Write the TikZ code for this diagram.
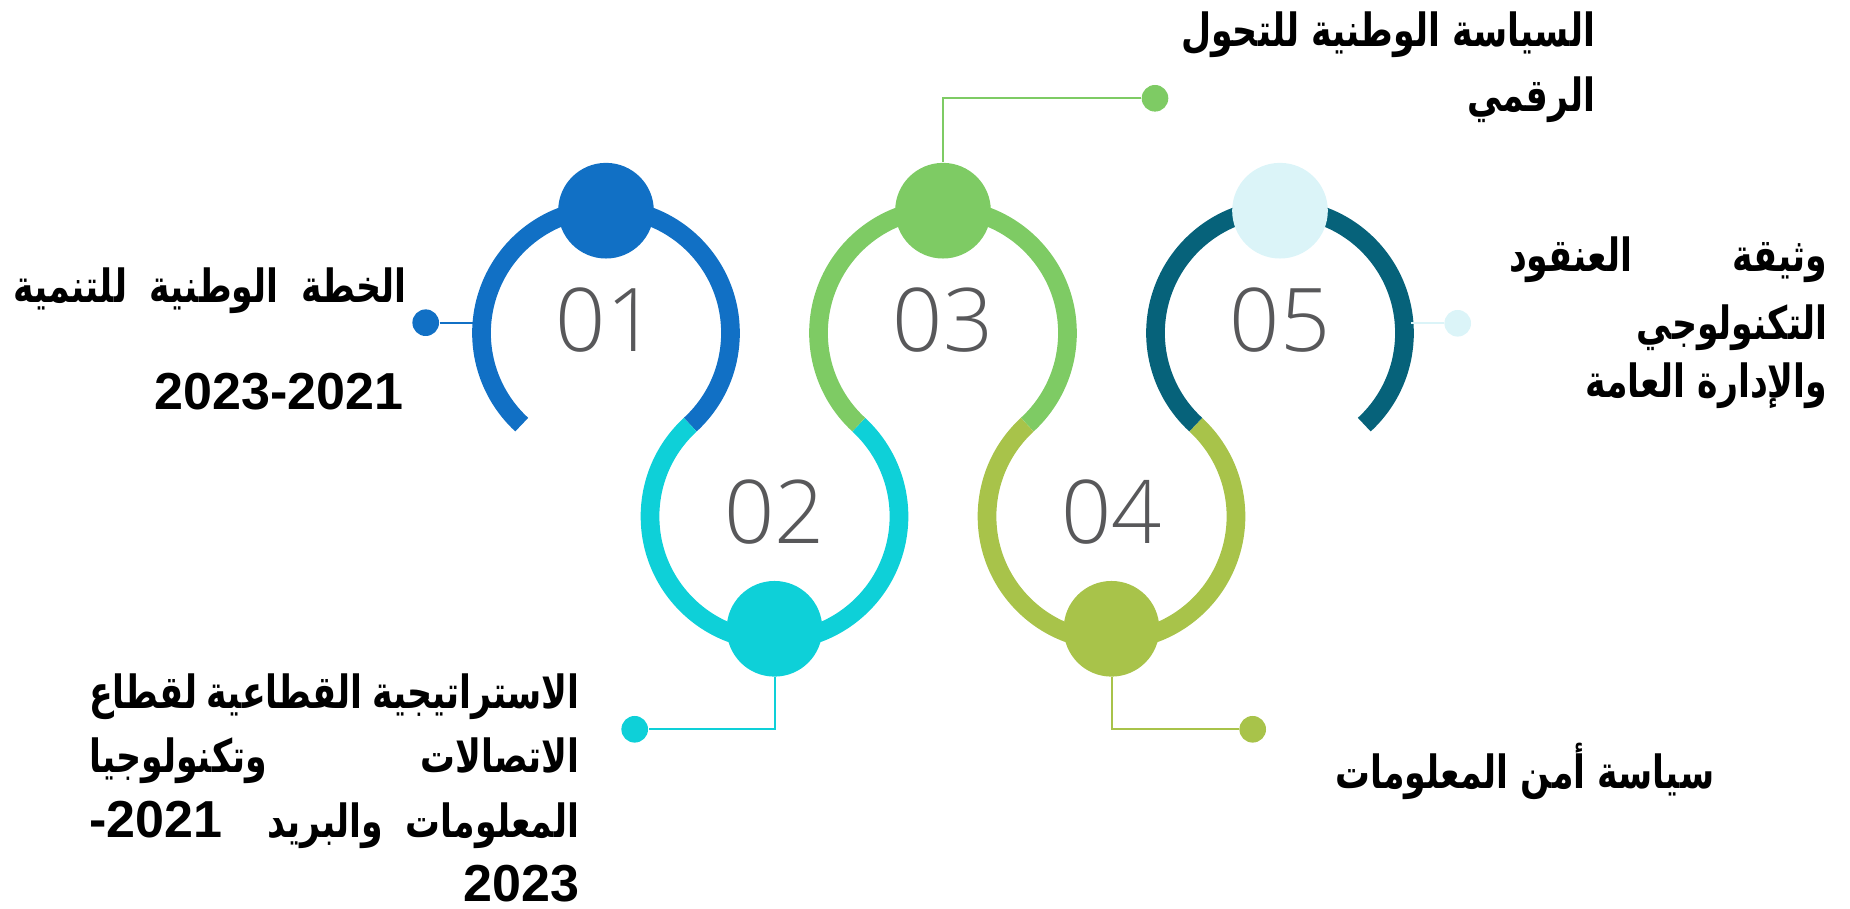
\documentclass[tikz,border=0pt]{standalone}
\usepackage{fontspec}
\setmainfont{Liberation Sans}
\newfontfamily\arabicfont[Script=Arabic, FakeStretch=0.76]{DejaVu Sans}
\newfontfamily\latinfont{Liberation Sans}
\newfontfamily\numfont{Open Sans Light}
\newcommand{\yrfont}{\latinfont\bfseries\fontsize{14.8}{18}\selectfont}
\usetikzlibrary{positioning}
\TeXXeTstate=1

\definecolor{cOne}{HTML}{1170C5}
\definecolor{cTwo}{HTML}{0ED0D8}
\definecolor{cThree}{HTML}{7ECB64}
\definecolor{cFour}{HTML}{A8C34A}
\definecolor{cFive}{HTML}{06627A}
\definecolor{cFiveLight}{HTML}{DBF4F8}
\definecolor{numgray}{HTML}{58585A}

\tikzset{
  ring/.style={line width=0.187cm},
  ball/.style={circle, minimum size=0.956cm, inner sep=0pt},
  pin/.style={circle, minimum size=0.266cm, inner sep=0pt},
  lead/.style={line width=0.02cm},
  num/.style={font=\numfont\fontsize{25}{30}\selectfont, text=numgray, inner sep=0pt},
  lbl/.style={font=\arabicfont\bfseries\fontsize{13}{18}\selectfont, inner sep=0pt, anchor=base east},
  yr/.style={font=\yrfont, inner sep=0pt, anchor=base east}
}

\begin{document}
\begin{tikzpicture}[x=0.01cm, y=0.01cm]
\useasboundingbox (0,0) rectangle (1850,909);

% the chain of rings
\draw[ring, cOne]   (606,576)     ++(-47.4:124.5) arc[start angle=-47.4, end angle=227.4, radius=124.5];
\draw[ring, cTwo]   (774.5,392.6) ++(132.6:124.5) arc[start angle=132.6, end angle=407.4, radius=124.5];
\draw[ring, cThree] (943,576)     ++(-47.4:124.5) arc[start angle=-47.4, end angle=227.4, radius=124.5];
\draw[ring, cFour]  (1111.5,392.6) ++(132.6:124.5) arc[start angle=132.6, end angle=407.4, radius=124.5];
\draw[ring, cFive]  (1280,576)    ++(-47.4:124.5) arc[start angle=-47.4, end angle=227.4, radius=124.5];

\node[ball, fill=cOne]       (b1) at (606,698.3) {};
\node[ball, fill=cTwo]       (b2) at (774.5,280.2) {};
\node[ball, fill=cThree]     (b3) at (943,698.3) {};
\node[ball, fill=cFour]      (b4) at (1111.5,280.2) {};
\node[ball, fill=cFiveLight] (b5) at (1280,698.3) {};

\node[num] (n1) at (606,589) {01};
\node[num] (n2) at (774.5,396.5) {02};
\node[num] (n3) at (943,589) {03};
\node[num] (n4) at (1111.5,396.5) {04};
\node[num] (n5) at (1280,589) {05};

% pins and leads
\coordinate (r1w) at (473,586.3);
\coordinate (r5e) at (1411,585.7);
\node[pin, fill=cOne]       (d1) at (425.7,586.3) {};
\node[pin, fill=cTwo]       (d2) at (634.7,179.7) {};
\node[pin, fill=cThree]     (d3) at (1155,810.7) {};
\node[pin, fill=cFour]      (d4) at (1252.7,179.7) {};
\node[pin, fill=cFiveLight] (d5) at (1457.7,585.7) {};
\draw[lead, cOne] (d1) -- (r1w);
\draw[lead, cTwo] (b2) |- (d2);
\draw[lead, cThree] (b3) |- (d3);
\draw[lead, cFour] (b4) |- (d4);
\draw[lead, cFiveLight] (r5e) -- (d5);

% labels
\node[lbl] (t1a) at (407,606) {\makebox[3.93cm]{\beginR الخطة\hfill الوطنية\hfill للتنمية\endR}};
\node[yr]  (t1b) at (404,499) {2023-2021};

\node[lbl] (t2a) at (580,200.5) {\makebox[4.9cm]{\beginR الاستراتيجية\hfill القطاعية\hfill لقطاع\endR}};
\node[lbl] (t2b) at (580,136) {\makebox[4.9cm]{\beginR الاتصالات\hfill وتكنولوجيا\endR}};
\node[lbl] (t2c) at (580,71.5) {\makebox[4.9cm]{\beginR المعلومات\hfill والبريد\hfill\hfill\beginL{\yrfont -2021}\endL\endR}};
\node[yr]  (t2d) at (580,7) {2023};

\node[lbl] (t3a) at (1596,862) {\beginR السياسة الوطنية للتحول\endR};
\node[lbl] (t3b) at (1596,797) {\beginR الرقمي\endR};

\node[lbl] (t4) at (1715,120) {\beginR سياسة أمن المعلومات\endR};

\node[lbl] (t5a) at (1828,637) {\makebox[3.18cm]{\beginR وثيقة\hfill العنقود\endR}};
\node[lbl] (t5b) at (1828,569.5) {\beginR التكنولوجي\endR};
\node[lbl] (t5c) at (1828,511) {\beginR والإدارة العامة\endR};
\end{tikzpicture}
\end{document}
